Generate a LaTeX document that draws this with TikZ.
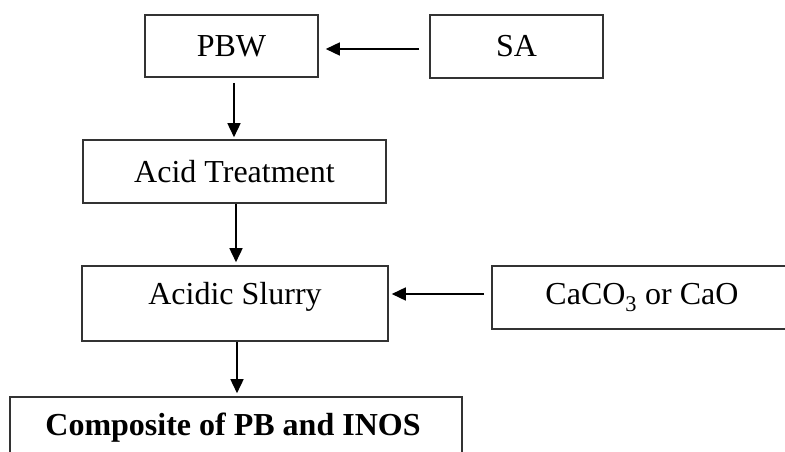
\documentclass[tikz,border=0pt]{standalone}
\usepackage{fontspec}
\setmainfont{Liberation Serif}
\usetikzlibrary{arrows.meta}
\begin{document}
\begin{tikzpicture}[x=1pt,y=-1pt,
  box/.style={draw=black!80,line width=1.6pt,fill=white,inner sep=0pt,
    font=\fontsize{32}{38}\selectfont},
  arr/.style={draw=black,line width=1.6pt,-{Triangle[length=14pt,width=13pt]}}]
\useasboundingbox[fill=white] (0,0) rectangle (785,452);
\node[box,minimum width=173pt,minimum height=62pt] (pbw) at (231.5,46) {PBW};
\node[box,minimum width=173pt,minimum height=63pt] (sa) at (516.5,46.5) {SA};
\node[box,minimum width=303pt,minimum height=63pt] (acid) at (234.5,171.5) {Acid Treatment};
\node[box,minimum width=306pt,minimum height=75pt] (slurry) at (235,303.5) {};
\node[font=\fontsize{32}{38}\selectfont] (slurrytext) at (235,297) {Acidic Slurry};
\node[box,minimum width=300pt,minimum height=63pt] (ca) at (642,297.5) {CaCO\textsubscript{3} or CaO};
\node[box,minimum width=452pt,minimum height=80pt] (comp) at (236,437) {};
\node[font=\fontsize{32}{38}\selectfont\bfseries] (comptext) at (233,428) {Composite of PB and INOS};
\draw[arr] ([yshift=-2.5pt,xshift=-10pt]sa.west) -- ([yshift=-3pt,xshift=7pt]pbw.east);
\draw[arr] ([xshift=2.5pt,yshift=-5pt]pbw.south) -- ([xshift=-0.5pt,yshift=2pt]acid.north);
\draw[arr] ([xshift=1.5pt]acid.south) -- ([xshift=1pt,yshift=3pt]slurry.north);
\draw[arr] ([xshift=2pt]slurry.south) -- ([xshift=1pt,yshift=3pt]comp.north);
\draw[arr] ([yshift=3.5pt,xshift=-7pt]ca.west) -- ([yshift=9.5pt,xshift=3pt]slurry.east);
\end{tikzpicture}
\end{document}
